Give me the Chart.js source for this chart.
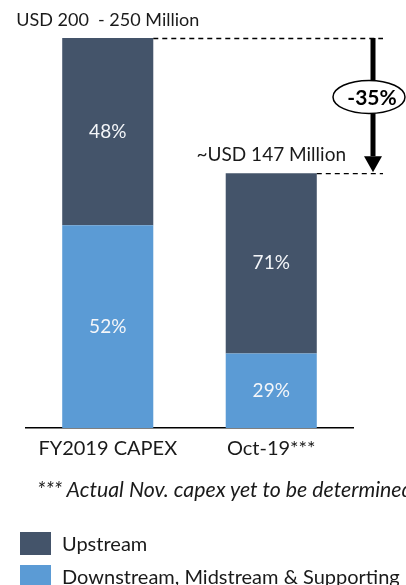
<!DOCTYPE html>
<html>
<head>
<meta charset="utf-8">
<script src="https://cdn.jsdelivr.net/npm/chart.js@4.4.1/dist/chart.umd.min.js"></script>
<style>
    html, body {
        margin: 0;
        padding: 0;
        background: #fff;
        overflow: hidden;
    }
    #wrap {
        position: relative;
        width: 406px;
        height: 585px;
        overflow: hidden;
        font-family: Lato, 'Open Sans', sans-serif;
        color: #1a1a1a;
    }
    #chart {
        position: absolute;
        left: 0;
        top: 0;
    }
    .note {
        position: absolute;
        left: 37px;
        top: 476px;
        font-size: 21.3px;
        font-style: italic;
        white-space: nowrap;
    }
    .legend-item {
        position: absolute;
        left: 20px;
        height: 23px;
        font-size: 20px;
        line-height: 23px;
        white-space: nowrap;
    }
    .legend-item span {
        display: inline-block;
        width: 31px;
        height: 23px;
        vertical-align: top;
        margin-right: 11px;
    }
</style>
</head>
<body>
<div id="wrap">
    <canvas id="chart" width="406" height="585"></canvas>
    <div class="note">*** Actual Nov. capex yet to be determined</div>
    <div id="legend"></div>
</div>
<script>
const categories = ['FY2019 CAPEX', 'Oct-19***'];
const totalLabels = ['USD 200  - 250 Million', '~USD 147 Million'];

// USD million
const downstreamValues = [117, 43];
const upstreamValues = [108, 104];

const downstreamShares = ['52%', '29%'];
const upstreamShares = ['48%', '71%'];

const changeLabel = '-35%';

const seriesNames = ['Upstream', 'Downstream, Midstream & Supporting'];
const upstreamColor = '#44546a';
const downstreamColor = '#5b9bd5';

const fontFamily = 'Lato, "Open Sans", sans-serif';

const annotationsPlugin = {
    id: 'annotations',
    afterDatasetsDraw(chart) {
        const ctx = chart.ctx,
            x = chart.scales.x,
            y = chart.scales.y;

        // percentage labels in the middle of each segment
        ctx.save();
        ctx.fillStyle = '#f4f6f9';
        ctx.font = `19px ${fontFamily}`;
        ctx.textAlign = 'center';
        ctx.textBaseline = 'middle';
        chart.data.datasets.forEach((ds, di) => {
            const meta = chart.getDatasetMeta(di);
            meta.data.forEach((bar, i) => {
                ctx.fillText(ds.shareLabels[i], bar.x, (bar.y + bar.base) / 2);
            });
        });
        ctx.restore();

        // totals above each bar
        const topMeta = chart.getDatasetMeta(1),
            tops = [];

        ctx.save();
        ctx.fillStyle = '#1a1a1a';
        ctx.textAlign = 'center';
        ctx.textBaseline = 'middle';
        topMeta.data.forEach((bar, i) => {
            tops.push({y: bar.y, right: bar.x + bar.width / 2});
            ctx.font = `${i === 0 ? 18 : 19}px ${fontFamily}`;
            ctx.fillText(totalLabels[i], bar.x, bar.y - 18);
        });
        ctx.restore();

        // dashed guides
        const guideEnd = x.right + 30;

        ctx.save();
        ctx.strokeStyle = '#000';
        ctx.lineWidth = 1.3;
        ctx.setLineDash([5, 4]);
        tops.forEach(t => {
            ctx.beginPath();
            ctx.moveTo(t.right, t.y + 0.5);
            ctx.lineTo(guideEnd, t.y + 0.5);
            ctx.stroke();
        });
        ctx.restore();

        // arrow
        const ax = x.right + 20,
            headH = 17,
            headW = 9;

        ctx.save();
        ctx.strokeStyle = '#000';
        ctx.fillStyle = '#000';
        ctx.lineWidth = 5;
        ctx.beginPath();
        ctx.moveTo(ax, tops[0].y);
        ctx.lineTo(ax, tops[1].y - headH);
        ctx.stroke();
        ctx.beginPath();
        ctx.moveTo(ax - headW, tops[1].y - headH);
        ctx.lineTo(ax + headW, tops[1].y - headH);
        ctx.lineTo(ax, tops[1].y - 1);
        ctx.closePath();
        ctx.fill();

        // ellipse with change label
        const cy = y.getPixelForValue(191);

        ctx.beginPath();
        ctx.ellipse(ax - 4, cy, 36, 16.5, 0, 0, Math.PI * 2);
        ctx.fillStyle = '#fff';
        ctx.fill();
        ctx.lineWidth = 1.5;
        ctx.stroke();
        ctx.fillStyle = '#000';
        ctx.font = `bold 21px ${fontFamily}`;
        ctx.textAlign = 'center';
        ctx.textBaseline = 'middle';
        ctx.fillText(changeLabel, ax - 1, cy + 1);
        ctx.restore();
    }
};

new Chart(document.getElementById('chart'), {
    type: 'bar',
    data: {
        labels: categories,
        datasets: [
            {
                label: seriesNames[1],
                data: downstreamValues,
                shareLabels: downstreamShares,
                backgroundColor: downstreamColor
            },
            {
                label: seriesNames[0],
                data: upstreamValues,
                shareLabels: upstreamShares,
                backgroundColor: upstreamColor
            }
        ]
    },
    options: {
        responsive: false,
        animation: false,
        events: [],
        layout: {
            padding: {left: 26, right: 53, top: 38, bottom: 0}
        },
        datasets: {
            bar: {
                categoryPercentage: 1,
                barPercentage: 0.557
            }
        },
        plugins: {
            legend: {display: false},
            tooltip: {enabled: false}
        },
        scales: {
            x: {
                stacked: true,
                grid: {display: false, drawTicks: false},
                border: {display: true, color: '#000', width: 1.5},
                ticks: {
                    color: '#1a1a1a',
                    padding: 9,
                    font: {family: fontFamily, size: 20}
                },
                afterFit(scale) {
                    scale.height = 157;
                }
            },
            y: {
                stacked: true,
                display: false,
                min: 0,
                max: 225
            }
        }
    },
    plugins: [annotationsPlugin]
});

const legendEl = document.getElementById('legend');
[[seriesNames[0], upstreamColor, 532], [seriesNames[1], downstreamColor, 565]].forEach(([name, color, top]) => {
    const item = document.createElement('div');
    item.className = 'legend-item';
    item.style.top = top + 'px';
    item.innerHTML = `<span style="background:${color}"></span>${name}`;
    legendEl.appendChild(item);
});
</script>
</body>
</html>
